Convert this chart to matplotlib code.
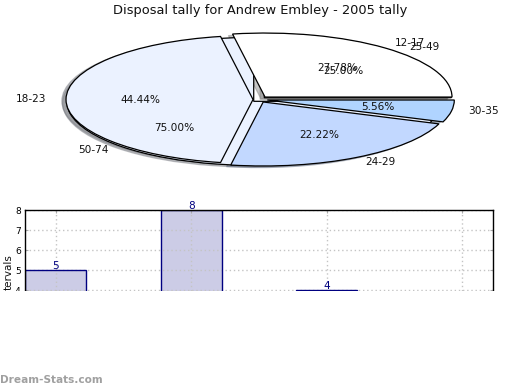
import matplotlib
matplotlib.use('Agg')
import matplotlib.pyplot as plt
from matplotlib.patches import Rectangle, Shadow

W, H = 520, 390

# values behind the pies and bars
bar_pos = [0, 1, 2, 3]
counts = [5, 8, 4, 1]
count_names = ['12-17', '18-23', '24-29', '30-35']
count_colors = ['#ffffff', '#ebf2ff', '#c2d8ff', '#b0d4ff']
count_explode = [0.05, 0.032, 0.045, 0.045]

wins = [1, 3]
win_names = ['25-49', '50-74']
win_colors = ['#ffffff', '#ebf2ff']
win_explode = [0.04, 0.04]

y_ticks = [4, 5, 6, 7, 8]

# where the pie labels sit, in pixels
count_label_px = [(410, 43), (31, 99), (380, 162), (484, 111)]
win_label_px = [(424, 47), (93, 150)]

fig = plt.figure(figsize=(W / 100, H / 100), dpi=100, facecolor='white')

# pie axes cover the whole figure, squashed into an ellipse
cx, cy, rx, ry = 259, 99.5, 187, 64
ax = fig.add_axes([0, 0, 1, 1])


def px(x, y):
    return (x - cx) / rx, (cy - y) / ry


def draw_pie(vals, names, colors, explode, label_px, z):
    wedges, texts, autos = ax.pie(
        vals, labels=names, colors=colors, explode=explode, startangle=0,
        autopct='%.2f%%', pctdistance=0.6,
        shadow={'ox': -0.016, 'oy': -0.018, 'shade': 0.5},
        wedgeprops={'edgecolor': 'black', 'linewidth': 0.9, 'zorder': z},
        textprops={'fontsize': 7.6, 'color': '#111111'})
    for t, p in zip(texts, label_px):
        t.set_position(px(*p))
        t.set_ha('center')
        t.set_va('center')
        t.set_zorder(6)
    for t in autos:
        t.set_zorder(6)


draw_pie(wins, win_names, win_colors, win_explode, win_label_px, 1)
draw_pie(counts, count_names, count_colors, count_explode, count_label_px, 3)

# all shadows stay under all the wedges
for p in ax.patches:
    if isinstance(p, Shadow):
        p.set_zorder(0.5)
        p.set_alpha(0.45)

ax.set_aspect('auto')
ax.set_xlim(px(0, 0)[0], px(W, 0)[0])
ax.set_ylim(px(0, H)[1], px(0, 0)[1])
ax.axis('off')

fig.text(260 / W, 1 - 10.5 / H, 'Disposal tally for Andrew Embley - 2005 tally',
         ha='center', va='center', fontsize=9.4, color='#111111')

# bar axes, the lower part gets hidden by the mask below
left, right, top, bottom = 25, 493, 210, 370
bx = fig.add_axes([left / W, 1 - bottom / H, (right - left) / W, (bottom - top) / H])
bx.bar(bar_pos, counts, width=0.45, color='#ccccE6', linewidth=0, zorder=2)
bx.bar(bar_pos, counts, width=0.45, fill=False, edgecolor='#000080', linewidth=1, zorder=3)
for p, v in zip(bar_pos, counts):
    bx.text(p, v - 0.03, str(v), ha='center', va='bottom', fontsize=7.6, color='#000080', zorder=5)
bx.set_xlim(-0.228, 3.226)
bx.set_ylim(0, 8)
bx.set_yticks(y_ticks)
bx.set_xticks(bar_pos)
bx.set_xticklabels([])
bx.tick_params(axis='y', labelsize=6.6, length=2, color='#aaaaaa', direction='in', pad=3, right=True)
bx.tick_params(axis='x', length=2, color='#aaaaaa', direction='in', top=True)
bx.grid(True, color='#c4c4c4', linestyle=(0, (1, 2)), linewidth=1)
bx.set_axisbelow(False)
for s in bx.spines.values():
    s.set_linewidth(1)
    s.set_zorder(4)

fig.text(9 / W, 1 - 254 / H, 'tervals', rotation=90, ha='center', va='top', fontsize=7.5, color='#111111')

# everything below y=291 is blank in the image
fig.add_artist(Rectangle((0, 0), 1, 1 - 291 / H, transform=fig.transFigure,
                         facecolor='white', edgecolor='none', zorder=10))

fig.text(0 / W, 1 - 380 / H, 'Dream-Stats.com', ha='left', va='center', fontsize=7.6,
         fontweight='bold', color='#a0a0a0', zorder=11)

fig.savefig('out.png', dpi=100)
